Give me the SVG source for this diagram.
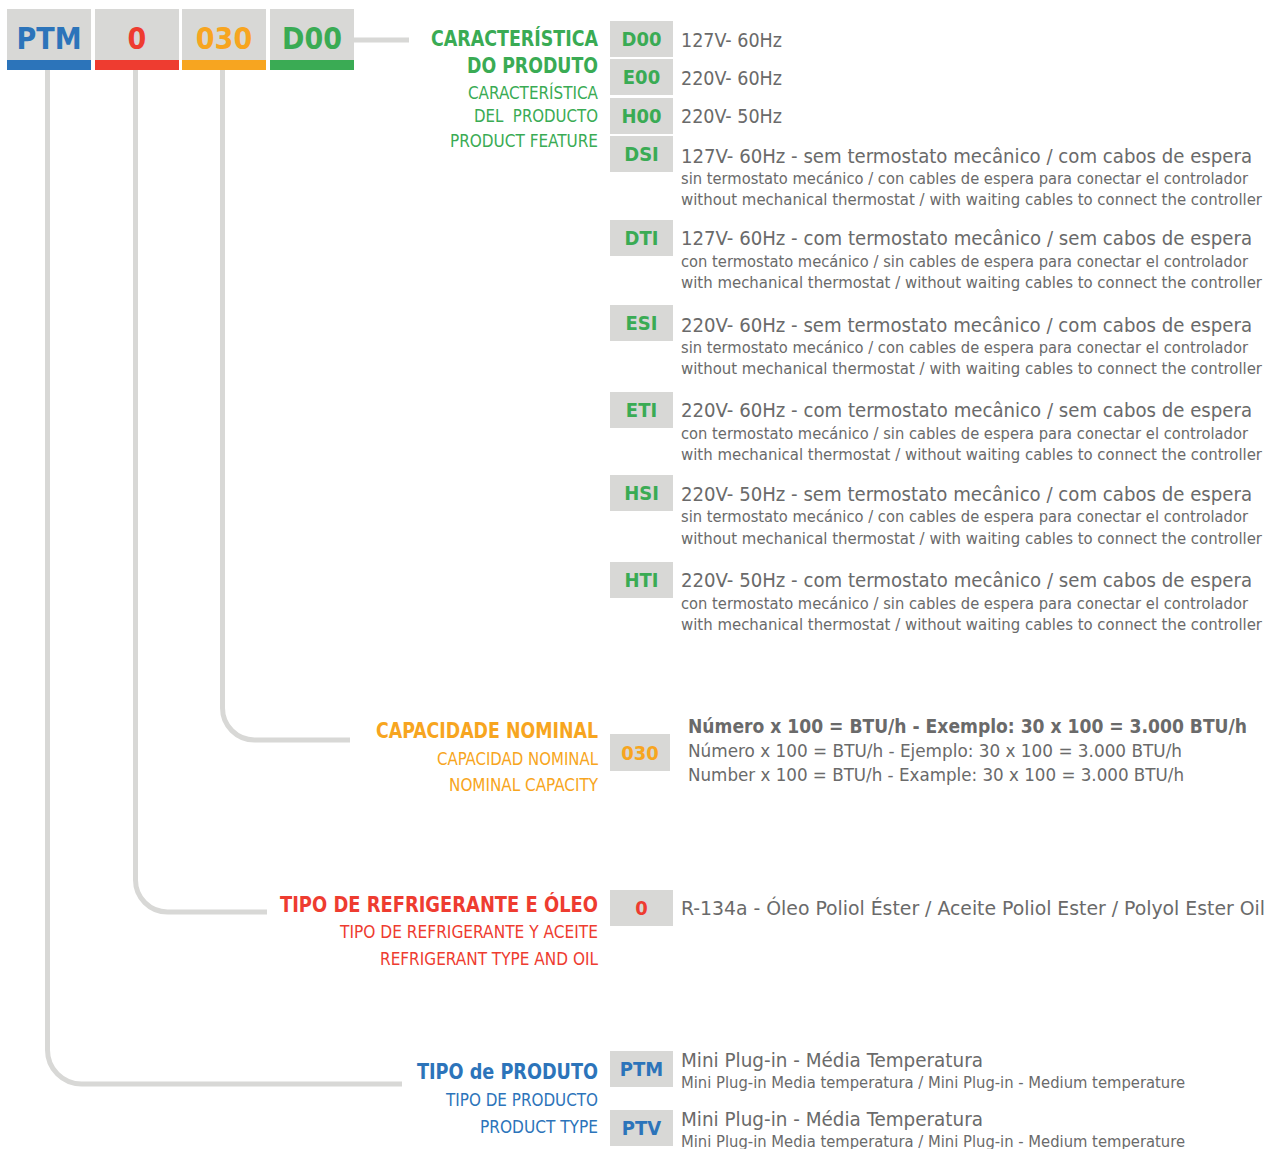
<svg xmlns="http://www.w3.org/2000/svg" width="1270" height="1149" viewBox="0 0 1270 1149">
<style>
text{font-family:"DejaVu Sans Condensed","DejaVu Sans","Liberation Sans",sans-serif}
.box{fill:#d8d8d6}
.code{font-size:20px;font-weight:bold;text-anchor:middle}
.hdr{font-size:30px;font-weight:bold;text-anchor:middle}
.g{fill:#3aab54}.b{fill:#2c74ba}.r{fill:#ee3c30}.o{fill:#f7a520}
.t1{font-size:20px;fill:#6a6a6a}
.t2{font-size:15.5px;fill:#6a6a6a}
.tb{font-size:20px;fill:#6a6a6a;font-weight:bold}
.h1{font-size:21px;font-weight:bold;text-anchor:end}
.h2{font-size:17px;text-anchor:end}
.conn{fill:none;stroke:#d8d8d6;stroke-width:5}
</style>
<g id="connectors">
<path class="conn" d="M354,40 H409"/>
<path class="conn" d="M222.5,70 V708 A32,32 0 0 0 254.5,740 H350"/>
<path class="conn" d="M135.5,70 V880 A32,32 0 0 0 167.5,912 H267"/>
<path class="conn" d="M47.5,70 V1050 A34,34 0 0 0 81.5,1084 H402"/>
</g>
<g id="header-PTM"><rect class="box" x="7" y="9" width="84" height="51"/><rect class="b" x="7" y="60" width="84" height="10"/><text class="hdr b" x="49" y="49">PTM</text></g>
<g id="header-0"><rect class="box" x="95" y="9" width="84" height="51"/><rect class="r" x="95" y="60" width="84" height="10"/><text class="hdr r" x="137" y="49">0</text></g>
<g id="header-030"><rect class="box" x="182" y="9" width="84" height="51"/><rect class="o" x="182" y="60" width="84" height="10"/><text class="hdr o" x="224" y="49">030</text></g>
<g id="header-D00"><rect class="box" x="270" y="9" width="84" height="51"/><rect class="g" x="270" y="60" width="84" height="10"/><text class="hdr g" x="312" y="49">D00</text></g>

<g id="feature-title">
<text class="h1 g" x="598" y="46" textLength="167" lengthAdjust="spacingAndGlyphs">CARACTERÍSTICA</text>
<text class="h1 g" x="598" y="73" textLength="131" lengthAdjust="spacingAndGlyphs">DO PRODUTO</text>
<text class="h2 g" x="598" y="99" textLength="130" lengthAdjust="spacingAndGlyphs">CARACTERÍSTICA</text>
<text class="h2 g" x="598" y="122" textLength="124" lengthAdjust="spacingAndGlyphs" xml:space="preserve">DEL  PRODUCTO</text>
<text class="h2 g" x="598" y="147" textLength="148" lengthAdjust="spacingAndGlyphs">PRODUCT FEATURE</text>
</g>

<g id="code-D00"><rect class="box" x="610" y="21" width="63" height="36"/><text class="code g" x="641.5" y="46">D00</text>
<text class="t1" x="681" y="47" textLength="101" lengthAdjust="spacingAndGlyphs">127V- 60Hz</text></g>
<g id="code-E00"><rect class="box" x="610" y="59" width="63" height="36"/><text class="code g" x="641.5" y="84">E00</text>
<text class="t1" x="681" y="85" textLength="101" lengthAdjust="spacingAndGlyphs">220V- 60Hz</text></g>
<g id="code-H00"><rect class="box" x="610" y="98" width="63" height="36"/><text class="code g" x="641.5" y="123">H00</text>
<text class="t1" x="681" y="123" textLength="101" lengthAdjust="spacingAndGlyphs">220V- 50Hz</text></g>

<g id="code-DSI"><rect class="box" x="610" y="136" width="63" height="36"/><text class="code g" x="641.5" y="161">DSI</text>
<text class="t1" x="681" y="163" textLength="571" lengthAdjust="spacingAndGlyphs">127V- 60Hz - sem termostato mecânico / com cabos de espera</text>
<text class="t2" x="681" y="184" textLength="567" lengthAdjust="spacingAndGlyphs">sin termostato mecánico / con cables de espera para conectar el controlador</text>
<text class="t2" x="681" y="205" textLength="581" lengthAdjust="spacingAndGlyphs">without mechanical thermostat / with waiting cables to connect the controller</text></g>

<g id="code-DTI"><rect class="box" x="610" y="220" width="63" height="36"/><text class="code g" x="641.5" y="245">DTI</text>
<text class="t1" x="681" y="245" textLength="571" lengthAdjust="spacingAndGlyphs">127V- 60Hz - com termostato mecânico / sem cabos de espera</text>
<text class="t2" x="681" y="267" textLength="567" lengthAdjust="spacingAndGlyphs">con termostato mecánico / sin cables de espera para conectar el controlador</text>
<text class="t2" x="681" y="288" textLength="581" lengthAdjust="spacingAndGlyphs">with mechanical thermostat / without waiting cables to connect the controller</text></g>

<g id="code-ESI"><rect class="box" x="610" y="305" width="63" height="36"/><text class="code g" x="641.5" y="330">ESI</text>
<text class="t1" x="681" y="332" textLength="571" lengthAdjust="spacingAndGlyphs">220V- 60Hz - sem termostato mecânico / com cabos de espera</text>
<text class="t2" x="681" y="353" textLength="567" lengthAdjust="spacingAndGlyphs">sin termostato mecánico / con cables de espera para conectar el controlador</text>
<text class="t2" x="681" y="374" textLength="581" lengthAdjust="spacingAndGlyphs">without mechanical thermostat / with waiting cables to connect the controller</text></g>

<g id="code-ETI"><rect class="box" x="610" y="392" width="63" height="36"/><text class="code g" x="641.5" y="417">ETI</text>
<text class="t1" x="681" y="417" textLength="571" lengthAdjust="spacingAndGlyphs">220V- 60Hz - com termostato mecânico / sem cabos de espera</text>
<text class="t2" x="681" y="439" textLength="567" lengthAdjust="spacingAndGlyphs">con termostato mecánico / sin cables de espera para conectar el controlador</text>
<text class="t2" x="681" y="460" textLength="581" lengthAdjust="spacingAndGlyphs">with mechanical thermostat / without waiting cables to connect the controller</text></g>

<g id="code-HSI"><rect class="box" x="610" y="475" width="63" height="36"/><text class="code g" x="641.5" y="500">HSI</text>
<text class="t1" x="681" y="501" textLength="571" lengthAdjust="spacingAndGlyphs">220V- 50Hz - sem termostato mecânico / com cabos de espera</text>
<text class="t2" x="681" y="522" textLength="567" lengthAdjust="spacingAndGlyphs">sin termostato mecánico / con cables de espera para conectar el controlador</text>
<text class="t2" x="681" y="544" textLength="581" lengthAdjust="spacingAndGlyphs">without mechanical thermostat / with waiting cables to connect the controller</text></g>

<g id="code-HTI"><rect class="box" x="610" y="562" width="63" height="36"/><text class="code g" x="641.5" y="587">HTI</text>
<text class="t1" x="681" y="587" textLength="571" lengthAdjust="spacingAndGlyphs">220V- 50Hz - com termostato mecânico / sem cabos de espera</text>
<text class="t2" x="681" y="609" textLength="567" lengthAdjust="spacingAndGlyphs">con termostato mecánico / sin cables de espera para conectar el controlador</text>
<text class="t2" x="681" y="630" textLength="581" lengthAdjust="spacingAndGlyphs">with mechanical thermostat / without waiting cables to connect the controller</text></g>

<g id="capacity">
<text class="h1 o" x="598" y="738" textLength="222" lengthAdjust="spacingAndGlyphs">CAPACIDADE NOMINAL</text>
<text class="h2 o" x="598" y="765" textLength="161" lengthAdjust="spacingAndGlyphs">CAPACIDAD NOMINAL</text>
<text class="h2 o" x="598" y="791" textLength="149" lengthAdjust="spacingAndGlyphs">NOMINAL CAPACITY</text>
<rect class="box" x="610" y="734" width="60" height="37"/><text class="code o" x="640" y="760">030</text>
<text class="tb" x="688" y="733" textLength="559" lengthAdjust="spacingAndGlyphs">Número x 100 = BTU/h - Exemplo: 30 x 100 = 3.000 BTU/h</text>
<text class="t1" x="688" y="757" font-size="18" textLength="494" lengthAdjust="spacingAndGlyphs" style="font-size:18px">Número x 100 = BTU/h - Ejemplo: 30 x 100 = 3.000 BTU/h</text>
<text class="t1" x="688" y="781" style="font-size:18px" textLength="496" lengthAdjust="spacingAndGlyphs">Number x 100 = BTU/h - Example: 30 x 100 = 3.000 BTU/h</text>
</g>

<g id="refrigerant">
<text class="h1 r" x="598" y="912" textLength="318" lengthAdjust="spacingAndGlyphs">TIPO DE REFRIGERANTE E ÓLEO</text>
<text class="h2 r" x="598" y="938" textLength="258" lengthAdjust="spacingAndGlyphs">TIPO DE REFRIGERANTE Y ACEITE</text>
<text class="h2 r" x="598" y="965" textLength="218" lengthAdjust="spacingAndGlyphs">REFRIGERANT TYPE AND OIL</text>
<rect class="box" x="610" y="890" width="63" height="36"/><text class="code r" x="641.5" y="915">0</text>
<text class="t1" x="681" y="915" textLength="584" lengthAdjust="spacingAndGlyphs">R-134a - Óleo Poliol Éster / Aceite Poliol Ester / Polyol Ester Oil</text>
</g>

<g id="product-type">
<text class="h1 b" x="598" y="1079" textLength="181" lengthAdjust="spacingAndGlyphs">TIPO de PRODUTO</text>
<text class="h2 b" x="598" y="1106" textLength="152" lengthAdjust="spacingAndGlyphs">TIPO DE PRODUCTO</text>
<text class="h2 b" x="598" y="1133" textLength="118" lengthAdjust="spacingAndGlyphs">PRODUCT TYPE</text>
</g>
<g id="code-PTM"><rect class="box" x="610" y="1051" width="63" height="36"/><text class="code b" x="641.5" y="1076">PTM</text>
<text class="t1" x="681" y="1067" textLength="302" lengthAdjust="spacingAndGlyphs">Mini Plug-in - Média Temperatura</text>
<text class="t2" x="681" y="1088" textLength="504" lengthAdjust="spacingAndGlyphs">Mini Plug-in Media temperatura / Mini Plug-in - Medium temperature</text></g>
<g id="code-PTV"><rect class="box" x="610" y="1110" width="63" height="36"/><text class="code b" x="641.5" y="1135">PTV</text>
<text class="t1" x="681" y="1126" textLength="302" lengthAdjust="spacingAndGlyphs">Mini Plug-in - Média Temperatura</text>
<text class="t2" x="681" y="1147" textLength="504" lengthAdjust="spacingAndGlyphs">Mini Plug-in Media temperatura / Mini Plug-in - Medium temperature</text></g>
</svg>
